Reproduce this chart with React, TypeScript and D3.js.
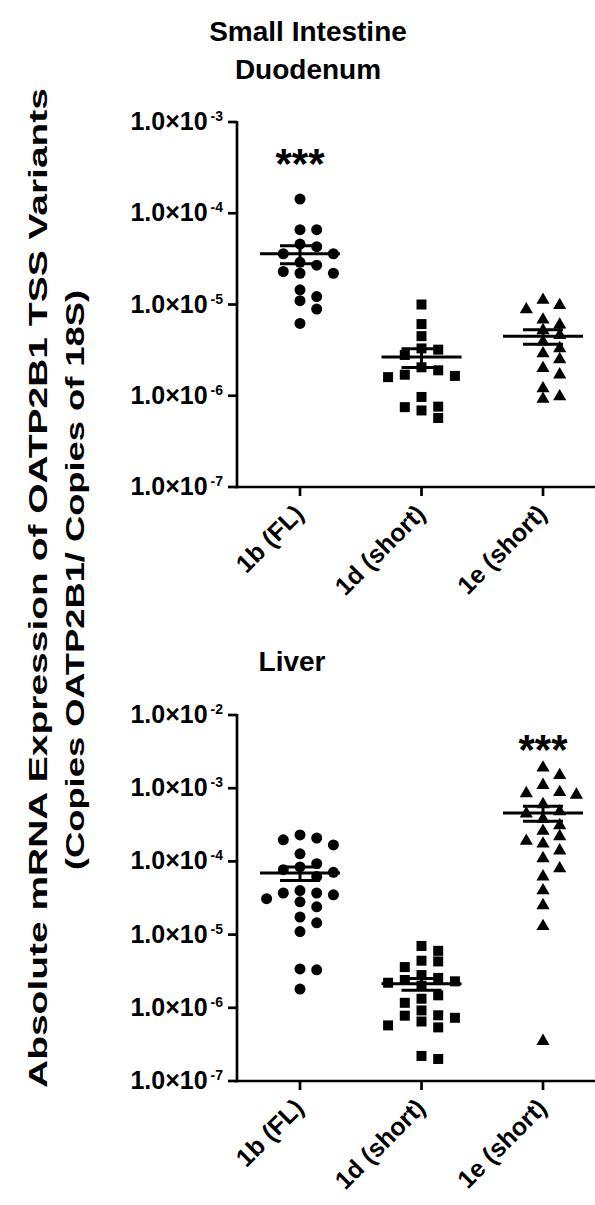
import * as d3 from "d3";
import { useEffect, useRef } from "react";

const categories = ["1b (FL)", "1d (short)", "1e (short)"];

// Small intestine / duodenum
const duo1b = [1.43e-4, 6.6e-5, 6.6e-5, 4.6e-5, 4.3e-5, 3.6e-5, 3.6e-5, 2.9e-5, 2.7e-5, 2.3e-5, 2.2e-5, 2.2e-5, 1.45e-5, 1.22e-5, 1.1e-5, 8.9e-6, 6.2e-6];
const duo1d = [1.0e-5, 6.1e-6, 4.5e-6, 3.2e-6, 3.3e-6, 2.8e-6, 2.05e-6, 1.9e-6, 1.7e-6, 1.6e-6, 1.65e-6, 9.7e-7, 7.5e-7, 6.9e-7, 7.6e-7, 5.7e-7];
const duo1e = [1.12e-5, 9.8e-6, 8.8e-6, 6.8e-6, 6.0e-6, 5.2e-6, 4.6e-6, 3.9e-6, 3.3e-6, 2.9e-6, 2.5e-6, 2.0e-6, 1.7e-6, 1.2e-6, 9.8e-7, 9.2e-7];

// Liver
const liv1b = [2.3e-4, 2.08e-4, 1.97e-4, 1.68e-4, 1.27e-4, 9.3e-5, 8.4e-5, 7.7e-5, 7.1e-5, 6.2e-5, 4.0e-5, 3.7e-5, 3.7e-5, 3.5e-5, 3.1e-5, 2.8e-5, 2.4e-5, 1.74e-5, 1.45e-5, 1.1e-5, 3.4e-6, 3.3e-6, 1.8e-6];
const liv1d = [7.0e-6, 6.0e-6, 4.4e-6, 4.3e-6, 3.6e-6, 2.8e-6, 2.56e-6, 2.4e-6, 2.3e-6, 2.2e-6, 2.0e-6, 1.48e-6, 1.33e-6, 1.17e-6, 9.2e-7, 7.9e-7, 7.8e-7, 7.3e-7, 6.5e-7, 5.75e-7, 5.4e-7, 2.2e-7, 2.0e-7];
const liv1e = [1.9e-3, 1.5e-3, 1.1e-3, 8.8e-4, 8.5e-4, 8.1e-4, 6.0e-4, 4.8e-4, 4.5e-4, 3.8e-4, 3.1e-4, 2.6e-4, 2.2e-4, 1.9e-4, 1.74e-4, 1.4e-4, 1.1e-4, 8.0e-5, 6.2e-5, 4.0e-5, 2.5e-5, 1.3e-5, 3.5e-7];

const duoTicks = [1e-3, 1e-4, 1e-5, 1e-6, 1e-7];
const livTicks = [1e-2, 1e-3, 1e-4, 1e-5, 1e-6, 1e-7];

const FONT = "'Liberation Sans', Arial, sans-serif";

// simple column scatter: points that overlap in y get pushed sideways
function swarm(values, y, cx, step, minDy) {
  const order = values.map((v, i) => i).sort((a, b) => values[b] - values[a]);
  const placed = [];
  const out = new Array(values.length);
  const slots = [0, 1, -1, 2, -2, 3, -3, 4, -4];
  order.forEach(i => {
    const py = y(values[i]);
    for (const s of slots) {
      if (!placed.some(p => p.slot === s && Math.abs(p.py - py) < minDy)) {
        placed.push({ slot: s, py });
        out[i] = { x: cx + s * step, y: py };
        break;
      }
    }
  });
  return out;
}

function drawPanel(svg, { groups, ticks, yTop, yBottom, title, titleX, titleY, stars }) {
  const axisLeft = 237;
  const axisRight = 595;

  const y = d3.scaleLog().domain([ticks[ticks.length - 1], ticks[0]]).range([yBottom, yTop]);
  const x = d3.scalePoint().domain(categories).range([300, 543]);

  const g = svg.append("g");

  // titles
  title.forEach((t, i) => {
    g.append("text")
      .attr("x", titleX)
      .attr("y", titleY + i * 38)
      .attr("text-anchor", "middle")
      .style("font", `bold 28px ${FONT}`)
      .text(t);
  });

  // y axis
  g.append("line")
    .attr("x1", axisLeft).attr("x2", axisLeft)
    .attr("y1", yTop - 1).attr("y2", yBottom + 1.3)
    .attr("stroke", "#000").attr("stroke-width", 2.7);
  ticks.forEach(t => {
    const ty = y(t);
    g.append("line")
      .attr("x1", axisLeft - 9).attr("x2", axisLeft)
      .attr("y1", ty).attr("y2", ty)
      .attr("stroke", "#000").attr("stroke-width", 2.7);
    const exp = Math.round(Math.log10(t));
    const lab = g.append("text")
      .attr("x", 223)
      .attr("y", ty + 8)
      .attr("text-anchor", "end")
      .style("font", `bold 25px ${FONT}`);
    lab.append("tspan").text("1.0\u00d710");
    lab.append("tspan")
      .attr("dx", 3)
      .attr("dy", -9)
      .style("font-size", "14px")
      .text(`-${-exp}`);
  });

  // x axis
  g.append("line")
    .attr("x1", axisLeft - 1.3).attr("x2", axisRight)
    .attr("y1", yBottom).attr("y2", yBottom)
    .attr("stroke", "#000").attr("stroke-width", 2.7);
  categories.forEach(c => {
    g.append("line")
      .attr("x1", x(c)).attr("x2", x(c))
      .attr("y1", yBottom).attr("y2", yBottom + 9)
      .attr("stroke", "#000").attr("stroke-width", 2.7);
    g.append("text")
      .attr("transform", `translate(${x(c) - 8}, ${yBottom + 15}) rotate(-45)`)
      .attr("text-anchor", "end")
      .attr("dy", "0.75em")
      .style("font", `bold 25px ${FONT}`)
      .text(c);
  });

  // points
  const shapes = [d3.symbolCircle, d3.symbolSquare, d3.symbolTriangle];
  const sizes = [95, 100, 75];
  groups.forEach((vals, gi) => {
    const cx = x(categories[gi]);
    const pts = swarm(vals, y, cx, 16.7, 10.5);
    const sym = d3.symbol().type(shapes[gi]).size(sizes[gi]);
    g.selectAll(`.pt${gi}`)
      .data(pts)
      .enter()
      .append("path")
      .attr("class", `pt${gi}`)
      .attr("d", sym)
      .attr("transform", d => `translate(${d.x}, ${d.y})`)
      .attr("fill", "#000");

    // mean with SEM
    const m = d3.mean(vals);
    const sem = d3.deviation(vals) / Math.sqrt(vals.length);
    const yHi = y(m + sem), yLo = y(m - sem), yM = y(m);
    g.append("line")
      .attr("x1", cx - 40).attr("x2", cx + 40)
      .attr("y1", yM).attr("y2", yM)
      .attr("stroke", "#000").attr("stroke-width", 3);
    g.append("line")
      .attr("x1", cx).attr("x2", cx)
      .attr("y1", yHi).attr("y2", yLo)
      .attr("stroke", "#000").attr("stroke-width", 3);
    [yHi, yLo].forEach(yy => {
      g.append("line")
        .attr("x1", cx - 20).attr("x2", cx + 20)
        .attr("y1", yy).attr("y2", yy)
        .attr("stroke", "#000").attr("stroke-width", 3);
    });
  });

  // significance
  stars.forEach(s => {
    g.append("text")
      .attr("x", x(s.cat))
      .attr("y", s.y)
      .attr("text-anchor", "middle")
      .style("font", `bold 42px ${FONT}`)
      .text("***");
  });
}

export default function App() {
  const ref = useRef(null);

  useEffect(() => {
    const svg = d3.select(ref.current);
    svg.selectAll("*").remove();

    svg.append("rect").attr("width", 595).attr("height", 1205).attr("fill", "#fff");

    drawPanel(svg, {
      groups: [duo1b, duo1d, duo1e],
      ticks: duoTicks,
      yTop: 122,
      yBottom: 487,
      title: ["Small Intestine", "Duodenum"],
      titleX: 308,
      titleY: 41,
      stars: [{ cat: categories[0], y: 178 }],
    });

    drawPanel(svg, {
      groups: [liv1b, liv1d, liv1e],
      ticks: livTicks,
      yTop: 715,
      yBottom: 1081,
      title: ["Liver"],
      titleX: 292,
      titleY: 671,
      stars: [{ cat: categories[2], y: 764 }],
    });

    // shared y axis title
    svg.append("text")
      .attr("transform", "translate(47, 588) rotate(-90)")
      .attr("text-anchor", "middle")
      .attr("textLength", 1000)
      .attr("lengthAdjust", "spacingAndGlyphs")
      .style("font", `bold 26px ${FONT}`)
      .text("Absolute mRNA Expression of OATP2B1  TSS Variants");
    svg.append("text")
      .attr("transform", "translate(84, 580) rotate(-90)")
      .attr("text-anchor", "middle")
      .attr("textLength", 580)
      .attr("lengthAdjust", "spacingAndGlyphs")
      .style("font", `bold 26px ${FONT}`)
      .text("(Copies OATP2B1/ Copies of 18S)");
  }, []);

  return (
    <svg
      ref={ref}
      width={595}
      height={1205}
      style={{ position: "absolute", left: 0, top: 0 }}
    ></svg>
  );
}
